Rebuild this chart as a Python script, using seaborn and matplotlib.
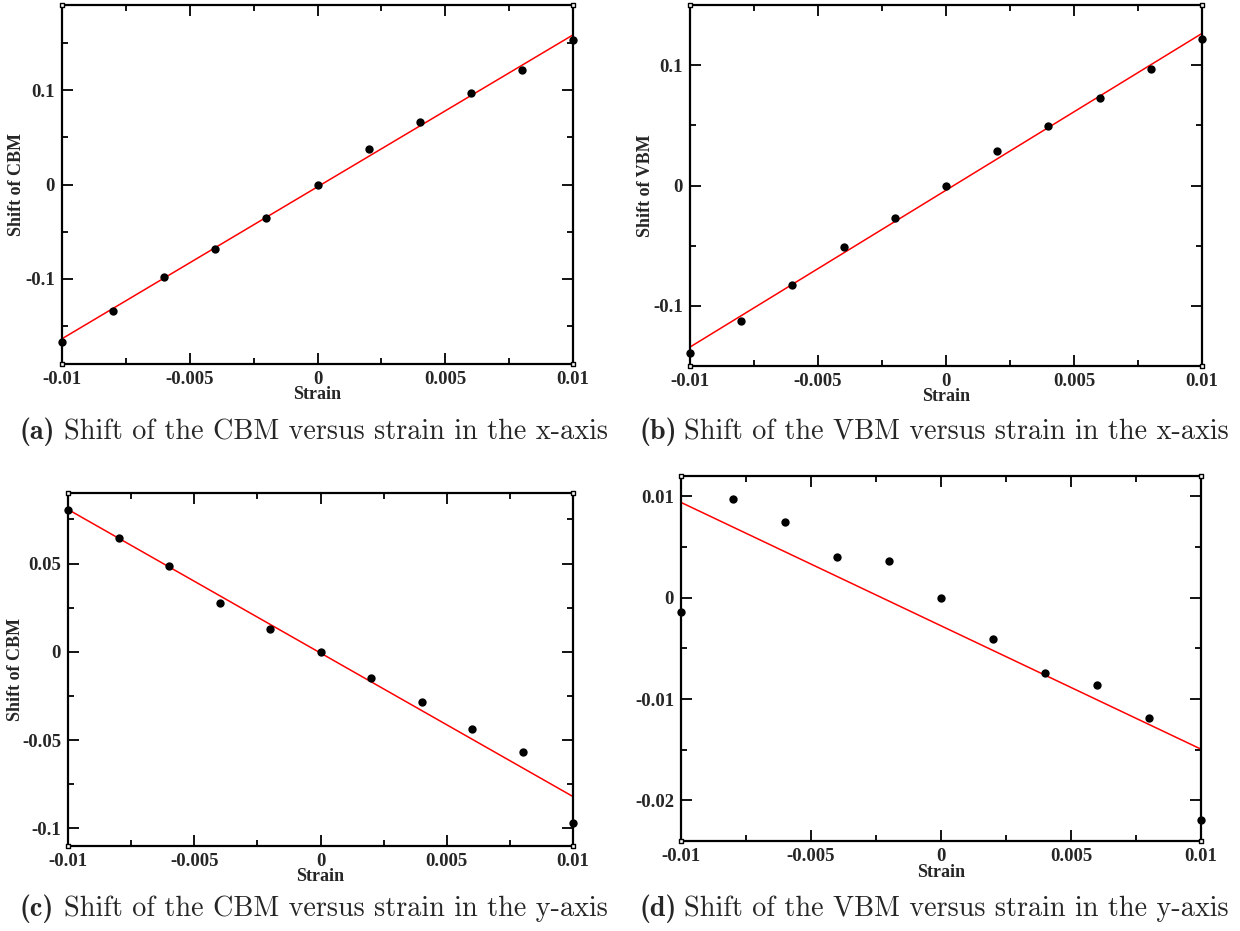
import numpy as np
import pandas as pd
import matplotlib
matplotlib.use("Agg")
import matplotlib.pyplot as plt
from matplotlib.ticker import MultipleLocator, FuncFormatter
import seaborn as sns

# strain values (x axis), same for all four panels
strain = [-0.01, -0.008, -0.006, -0.004, -0.002, 0.0, 0.002, 0.004, 0.006, 0.008, 0.01]

# band edge shifts
cbm_x = [-0.1664, -0.1336, -0.0975, -0.0678, -0.0357, 0.0, 0.0371, 0.0664, 0.0965, 0.1212, 0.1527]
vbm_x = [-0.1393, -0.1128, -0.0827, -0.0510, -0.0270, 0.0, 0.0287, 0.0496, 0.0724, 0.0972, 0.1217]
cbm_y = [0.0805, 0.0643, 0.0484, 0.0277, 0.0129, 0.0, -0.0148, -0.0285, -0.0436, -0.0569, -0.0972]
vbm_y = [-0.0014, 0.0097, 0.0075, 0.0040, 0.0036, 0.0, -0.0041, -0.0074, -0.0086, -0.0119, -0.0219]

tags = ["(a)", "(b)", "(c)", "(d)"]
captions = ["Shift of the CBM versus strain in the x-axis",
            "Shift of the VBM versus strain in the x-axis",
            "Shift of the CBM versus strain in the y-axis",
            "Shift of the VBM versus strain in the y-axis"]
ylabels = ["Shift of CBM", "Shift of VBM", "Shift of CBM", ""]
ylims = [(-0.19, 0.19), (-0.15, 0.15), (-0.11, 0.09), (-0.024, 0.012)]
ymajor = [0.1, 0.1, 0.05, 0.01]

sns.set_style("ticks")
plt.rcParams["font.family"] = ["Liberation Serif", "DejaVu Serif"]

W, H = 1240, 931
fig = plt.figure(figsize=(W / 100, H / 100), dpi=100)

# axes boxes in pixels: left, right, top, bottom
boxes = [(62, 573, 5, 364), (690, 1202, 5, 366), (68, 573, 493, 846), (681, 1201, 476, 841)]
ylab_x = [-0.072, -0.07, -0.088, 0]
cap_pos = [(19, 432, 64), (639, 432, 684), (19, 909, 64), (639, 909, 684)]

fmt = FuncFormatter(lambda v, _: "%g" % (round(v, 6) + 0.0))

for i, yvals in enumerate([cbm_x, vbm_x, cbm_y, vbm_y]):
    l, r, t, b = boxes[i]
    ax = fig.add_axes([l / W, 1 - b / H, (r - l) / W, (b - t) / H])
    df = pd.DataFrame({"strain": strain, "shift": yvals})

    # least squares fit line
    sns.regplot(data=df, x="strain", y="shift", ax=ax, scatter=False, ci=None,
                truncate=True, color="red", line_kws={"lw": 1.1, "clip_on": False})
    sns.scatterplot(data=df, x="strain", y="shift", ax=ax, color="black",
                    s=36, linewidth=0, clip_on=False, zorder=4)

    ax.set_xlim(-0.01, 0.01)
    ax.set_ylim(*ylims[i])
    ax.xaxis.set_major_locator(MultipleLocator(0.005))
    ax.xaxis.set_minor_locator(MultipleLocator(0.0025))
    ax.yaxis.set_major_locator(MultipleLocator(ymajor[i]))
    ax.yaxis.set_minor_locator(MultipleLocator(ymajor[i] / 2))
    ax.xaxis.set_major_formatter(fmt)
    ax.yaxis.set_major_formatter(fmt)

    ax.tick_params(which="both", direction="in", top=True, right=True, width=1.3, color="black")
    ax.tick_params(which="major", length=8, pad=5, labelsize=13.5)
    ax.tick_params(which="minor", length=4)
    for lab in ax.get_xticklabels() + ax.get_yticklabels():
        lab.set_fontweight("bold")
    for sp in ax.spines.values():
        sp.set_linewidth(1.6)
        sp.set_color("black")

    ax.set_xlabel("Strain", fontsize=13, fontweight="bold")
    ax.xaxis.set_label_coords(0.5, -0.062)
    ax.set_ylabel(ylabels[i], fontsize=13, fontweight="bold")
    if ylabels[i]:
        ax.yaxis.set_label_coords(ylab_x[i], 0.5)

    # little corner squares like xmgrace draws
    ax.scatter([0, 1, 0, 1], [0, 0, 1, 1], transform=ax.transAxes, marker="s", s=10,
               facecolor="white", edgecolor="black", linewidth=1, clip_on=False, zorder=6)

    tx, ty, cx = cap_pos[i]
    fig.text(tx / W, 1 - ty / H, tags[i], family=["cmb10", "DejaVu Serif"], fontsize=20.3, va="center")
    fig.text(cx / W, 1 - ty / H, captions[i], family=["cmr10", "DejaVu Serif"], fontsize=20.3, va="center")

fig.savefig("out.png", dpi=100)
